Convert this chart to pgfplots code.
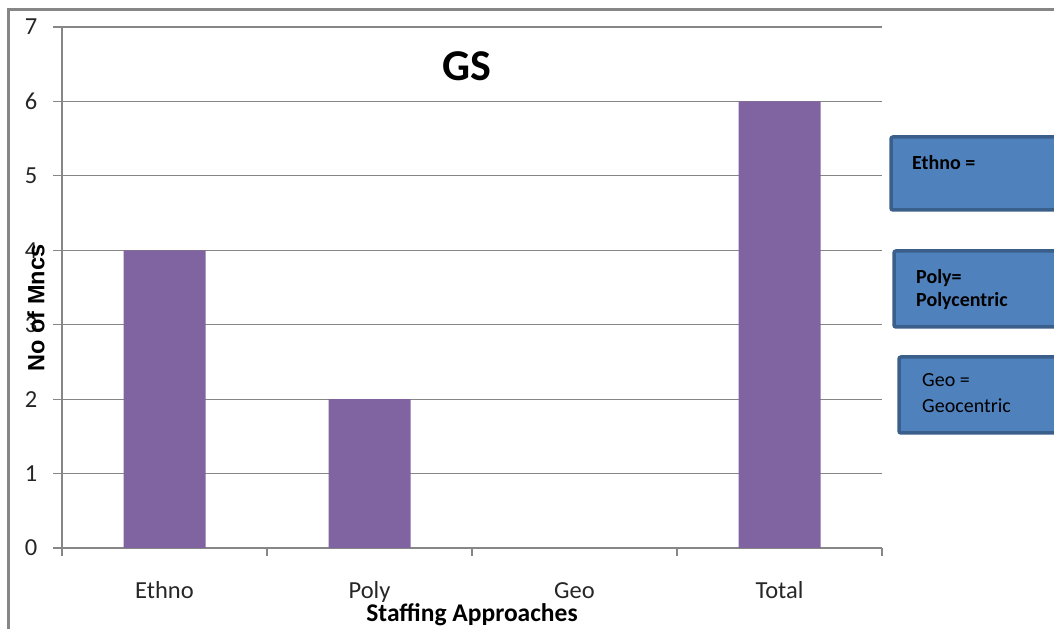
\documentclass[border=0pt]{standalone}
\usepackage{pgfplots}
\pgfplotsset{compat=1.18}
\usepackage{fontspec}
\setmainfont{Carlito}
\newfontfamily\arialfont{Liberation Sans}
\definecolor{barpurple}{HTML}{8064A2}
\definecolor{boxfill}{HTML}{4F81BD}
\definecolor{boxedge}{HTML}{3A5F8B}
\definecolor{gridgray}{HTML}{868686}

\begin{document}
\begin{tikzpicture}
\useasboundingbox (0,0) rectangle (1054bp,629bp);
\clip (0,0) rectangle (1054bp,629bp);

% outer chart frame
\draw[gridgray, line width=3bp] (1060bp,619bp) -- (8.5bp,619bp) -- (8.5bp,-5bp);

\begin{axis}[
    at={(62bp,81bp)}, anchor=south west,
    scale only axis,
    width=820bp, height=521bp,
    xmin=-0.5, xmax=3.5,
    ymin=0, ymax=7,
    axis x line*=bottom,
    axis y line*=left,
    axis line style={gridgray, line width=1.2bp},
    ytick={0,...,7},
    ymajorgrids,
    grid style={gridgray, line width=1.2bp},
    tick align=outside,
    major tick length=9bp,
    minor tick length=8bp,
    xtick={0,1,2,3},
    xticklabels={Ethno,Poly,Geo,Total},
    major x tick style={draw=none},
    minor xtick={-0.5,0.5,1.5,2.5,3.5},
    minor x tick style={gridgray, line width=1.2bp},
    y tick style={gridgray, line width=1.2bp},
    tick label style={font=\fontsize{24.5bp}{27bp}\selectfont, text=black!85},
    xticklabel style={anchor=base, yshift=-41bp},
    yticklabel style={anchor=center, xshift=-22bp},
    /pgf/number format/assume math mode=true,
    title={GS},
    title style={at={(axis description cs:0.494,0.9136)}, anchor=center,
        font=\fontsize{44bp}{48bp}\selectfont\bfseries},
    xlabel={Staffing Approaches},
    xlabel style={at={(axis description cs:0.5,-0.1286)}, anchor=center,
        font=\fontsize{25.5bp}{28bp}\selectfont\bfseries},
    ylabel={No of Mncs},
    ylabel style={at={(axis description cs:-0.0317,0.4607)}, anchor=center,
        font=\arialfont\fontsize{23.5bp}{26bp}\selectfont\bfseries},
    ybar, bar width=82bp,
]
\addplot[fill=barpurple, draw=none] coordinates {(0,4) (1,2) (2,0) (3,6)};
\end{axis}

% text boxes at the right
\begin{scope}[line width=3.5bp, rounded corners=2bp]
\draw[draw=boxedge, fill=boxfill] (891bp,419bp) rectangle (1075bp,492bp);
\draw[draw=boxedge, fill=boxfill] (894bp,302bp) rectangle (1075bp,378bp);
\draw[draw=boxedge, fill=boxfill] (899bp,196bp) rectangle (1075bp,272bp);
\end{scope}
\begin{scope}[every node/.style={anchor=base west, inner sep=0pt, font=\fontsize{20bp}{23bp}\selectfont}]
\node[font=\fontsize{20bp}{23bp}\selectfont\bfseries] at (912bp,459bp) {Ethno =};
\node[font=\fontsize{20bp}{23bp}\selectfont\bfseries] at (916bp,345bp) {Poly=};
\node[font=\fontsize{20bp}{23bp}\selectfont\bfseries] at (916bp,322bp) {Polycentric};
\node at (922bp,242bp) {Geo =};
\node at (922bp,216bp) {Geocentric};
\end{scope}
\end{tikzpicture}
\end{document}
